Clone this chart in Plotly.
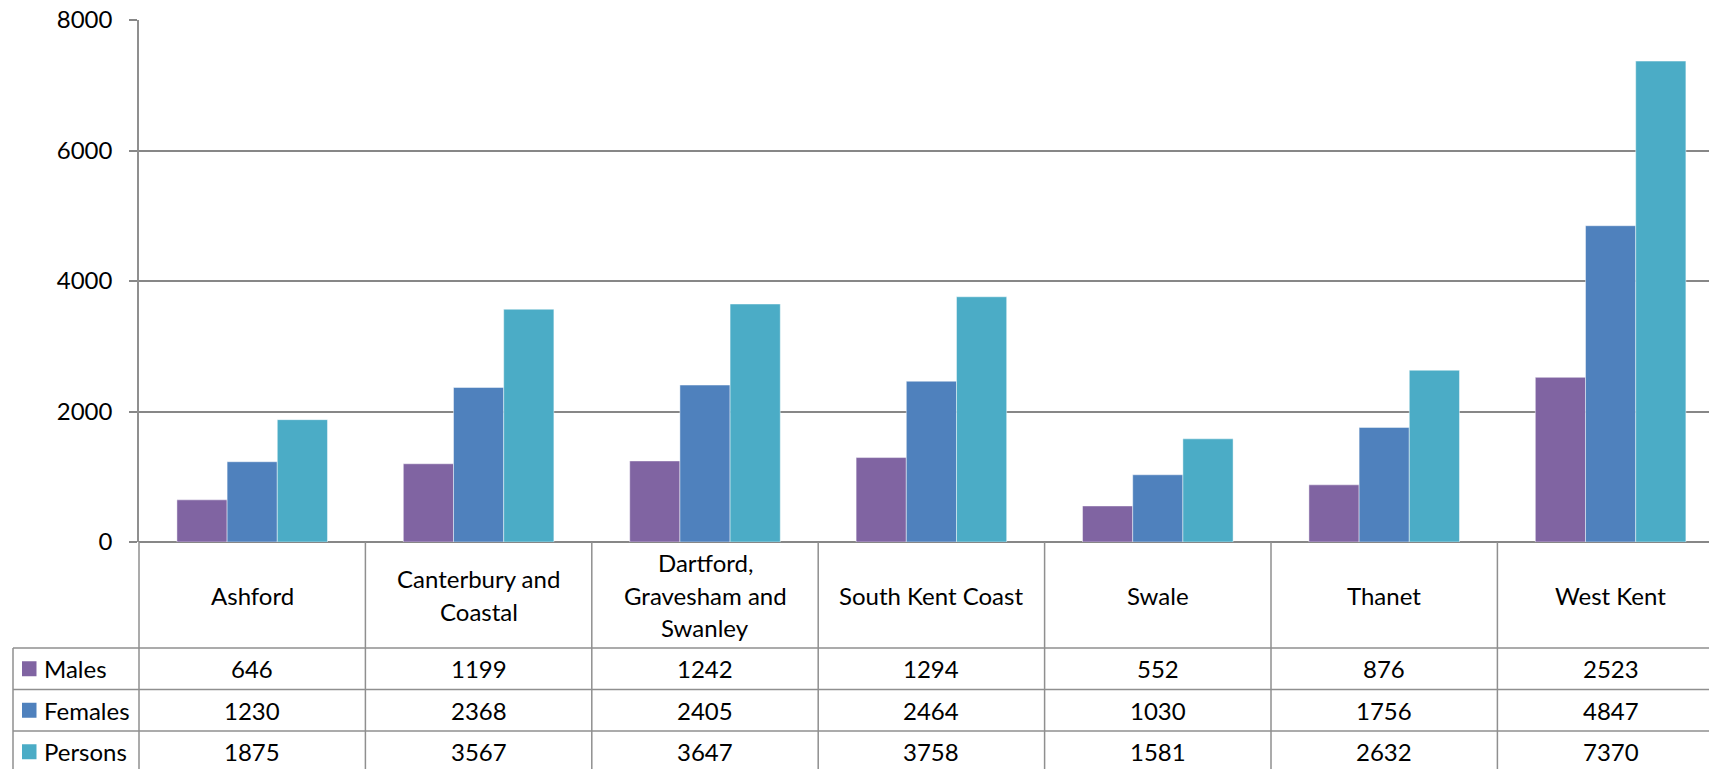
import plotly.graph_objects as go

# ---- data -------------------------------------------------------------
localities = ["Ashford", "Canterbury and Coastal", "Dartford, Gravesham and Swanley",
              "South Kent Coast", "Swale", "Thanet", "West Kent"]
locality_lines = [["Ashford"], ["Canterbury and", "Coastal"],
                  ["Dartford,", "Gravesham and", "Swanley"],
                  ["South Kent Coast"], ["Swale"], ["Thanet"], ["West Kent"]]
males = [646, 1199, 1242, 1294, 552, 876, 2523]
females = [1230, 2368, 2405, 2464, 1030, 1756, 4847]
persons = [1875, 3567, 3647, 3758, 1581, 2632, 7370]
y_ticks = [0, 2000, 4000, 6000, 8000]

series = [("Males", males, "#8064A2"),
          ("Females", females, "#4F81BD"),
          ("Persons", persons, "#4BACC6")]

# ---- geometry ---------------------------------------------------------
W, H = 1709, 769
ML, MT, MB = 139, 20, 227
PLOT_H = H - MT - MB
CAT_PX = 226.4                      # width of one locality column
X_MIN = -0.5
X_MAX = X_MIN + (W - ML) / CAT_PX   # last column runs off the page
FONT = "Lato"
FS = 24
GRID = "#878787"
LINE = "#8f8f8f"

ROW_TOP = 542          # top of the data table (zero line)
HEAD_BOTTOM = 648      # bottom of the category row
ROW_H = 41.5
TABLE_LEFT = 13


def ypaper(py):
    return (H - MB - py) / PLOT_H


def xpaper_px(px):
    return (px - ML) / (W - ML)


def xpaper_val(v):
    return (v - X_MIN) / (X_MAX - X_MIN)


x_idx = list(range(len(localities)))

fig = go.Figure()
for name, vals, color in series:
    fig.add_trace(go.Bar(
        x=x_idx, y=vals, name=name,
        marker=dict(color=color, line=dict(color="rgba(255,255,255,0.45)", width=1)),
        showlegend=False, hoverinfo="skip",
    ))

shapes = []
annotations = []

# vertical column borders of the table
for k in range(len(localities) + 1):
    xp = xpaper_val(k - 0.5)
    if xp > 1.0:
        continue
    shapes.append(dict(type="line", xref="paper", yref="paper",
                       x0=xp, x1=xp, y0=ypaper(ROW_TOP), y1=ypaper(H + 10),
                       line=dict(color=LINE, width=1.5)))

# horizontal row borders
row_lines = [HEAD_BOTTOM + i * ROW_H for i in range(len(series))]
for py in row_lines:
    shapes.append(dict(type="line", xref="paper", yref="paper",
                       x0=xpaper_px(TABLE_LEFT), x1=1.0, y0=ypaper(py), y1=ypaper(py),
                       line=dict(color=LINE, width=1.5)))
# left edge of the series-name column
shapes.append(dict(type="line", xref="paper", yref="paper",
                   x0=xpaper_px(TABLE_LEFT), x1=xpaper_px(TABLE_LEFT),
                   y0=ypaper(HEAD_BOTTOM), y1=ypaper(H + 10),
                   line=dict(color=LINE, width=1.5)))

# category labels
LINE_GAP = 32.5
head_mid = (ROW_TOP + HEAD_BOTTOM) / 2
for i, lines in enumerate(locality_lines):
    n = len(lines)
    for j, txt in enumerate(lines):
        py = head_mid + (j - (n - 1) / 2) * LINE_GAP
        annotations.append(dict(x=i, y=ypaper(py), xref="x", yref="paper",
                                text=txt, showarrow=False,
                                xanchor="center", yanchor="middle",
                                font=dict(family=FONT, size=FS, color="#000")))

# series rows: legend key, name and values
for r, (name, vals, color) in enumerate(series):
    top = HEAD_BOTTOM + r * ROW_H
    mid = top + ROW_H / 2
    shapes.append(dict(type="rect", xref="paper", yref="paper",
                       x0=xpaper_px(22), x1=xpaper_px(36.5),
                       y0=ypaper(mid - 7.5), y1=ypaper(mid + 7.5),
                       fillcolor=color, line=dict(width=0)))
    annotations.append(dict(x=xpaper_px(42), y=ypaper(mid), xref="paper", yref="paper",
                            text=name, showarrow=False, xanchor="left", yanchor="middle",
                            font=dict(family=FONT, size=FS, color="#000")))
    for i, v in enumerate(vals):
        annotations.append(dict(x=i, y=ypaper(mid), xref="x", yref="paper",
                                text=str(v), showarrow=False,
                                xanchor="center", yanchor="middle",
                                font=dict(family=FONT, size=FS, color="#000")))

fig.update_layout(
    width=W, height=H,
    margin=dict(l=ML, r=0, t=MT, b=MB, pad=0),
    paper_bgcolor="white", plot_bgcolor="white",
    barmode="group", bargap=0.335, bargroupgap=0,
    font=dict(family=FONT, size=FS, color="#000"),
    shapes=shapes, annotations=annotations,
    xaxis=dict(range=[X_MIN, X_MAX], showticklabels=False, showgrid=False,
               zeroline=False, showline=False, ticks="", fixedrange=True),
    yaxis=dict(range=[0, 8000], tickvals=y_ticks, ticktext=[str(t) for t in y_ticks],
               showgrid=True, gridcolor=GRID, gridwidth=1.5,
               zeroline=True, zerolinecolor=GRID, zerolinewidth=1.5,
               showline=True, linecolor=LINE, linewidth=1.5,
               ticks="outside", ticklen=8, tickwidth=1.5, tickcolor=GRID,
               ticklabelstandoff=12,
               tickfont=dict(family=FONT, size=FS, color="#000"), fixedrange=True),
)

fig.write_html("out.html")
